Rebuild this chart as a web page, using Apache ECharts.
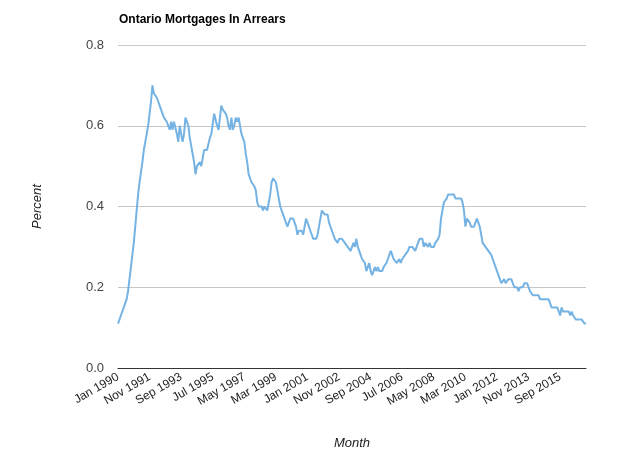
<!DOCTYPE html>
<html>
<head>
<meta charset="utf-8">
<script src="https://cdn.jsdelivr.net/npm/echarts@6/dist/echarts.min.js"></script>
<style>
  html, body { margin: 0; padding: 0; background: #fff; }
  #chart { width: 637px; height: 455px; }
</style>
</head>
<body>
<div id="chart"></div>
<script>
  // monthly arrears rate (%), Jan 1990 .. Mar 2017, one row per year
  const y1990 = [0.11, 0.12, 0.13, 0.14, 0.15, 0.16, 0.17, 0.19, 0.22, 0.25, 0.28, 0.31];
  const y1991 = [0.35, 0.39, 0.43, 0.46, 0.46, 0.51, 0.54, 0.56, 0.58, 0.60, 0.63, 0.66];
  const y1992 = [0.70, 0.68, 0.68, 0.67, 0.66, 0.65, 0.64, 0.63, 0.62, 0.62, 0.61, 0.61];
  const y1993 = [0.59, 0.61, 0.59, 0.61, 0.61, 0.58, 0.56, 0.60, 0.58, 0.56, 0.58, 0.62];
  const y1994 = [0.62, 0.60, 0.57, 0.55, 0.53, 0.51, 0.48, 0.50, 0.50, 0.51, 0.50, 0.52];
  const y1995 = [0.54, 0.54, 0.54, 0.54, 0.57, 0.58, 0.58, 0.63, 0.63, 0.60, 0.59, 0.62];
  const y1996 = [0.65, 0.64, 0.64, 0.63, 0.62, 0.60, 0.59, 0.62, 0.59, 0.60, 0.62, 0.61];
  const y1997 = [0.62, 0.60, 0.58, 0.57, 0.56, 0.53, 0.51, 0.48, 0.47, 0.46, 0.46, 0.45];
  const y1998 = [0.44, 0.41, 0.40, 0.40, 0.40, 0.39, 0.40, 0.40, 0.39, 0.41, 0.43, 0.46];
  const y1999 = [0.47, 0.47, 0.46, 0.44, 0.44, 0.40, 0.39, 0.38, 0.37, 0.36, 0.35, 0.36];
  const y2000 = [0.37, 0.37, 0.37, 0.37, 0.35, 0.33, 0.34, 0.34, 0.34, 0.33, 0.35, 0.37];
  const y2001 = [0.36, 0.35, 0.34, 0.33, 0.32, 0.32, 0.32, 0.33, 0.35, 0.37, 0.39, 0.39];
  const y2002 = [0.38, 0.38, 0.38, 0.36, 0.35, 0.34, 0.33, 0.32, 0.32, 0.31, 0.32, 0.32];
  const y2003 = [0.32, 0.32, 0.31, 0.31, 0.30, 0.30, 0.29, 0.30, 0.31, 0.30, 0.32, 0.30];
  const y2004 = [0.30, 0.28, 0.27, 0.27, 0.26, 0.24, 0.25, 0.26, 0.24, 0.23, 0.23, 0.25];
  const y2005 = [0.24, 0.25, 0.24, 0.24, 0.24, 0.25, 0.25, 0.26, 0.27, 0.28, 0.29, 0.28];
  const y2006 = [0.27, 0.27, 0.26, 0.26, 0.27, 0.26, 0.27, 0.27, 0.28, 0.28, 0.29, 0.30];
  const y2007 = [0.30, 0.30, 0.30, 0.29, 0.30, 0.30, 0.32, 0.32, 0.32, 0.30, 0.31, 0.31];
  const y2008 = [0.30, 0.31, 0.30, 0.30, 0.30, 0.31, 0.31, 0.32, 0.33, 0.37, 0.39, 0.41];
  const y2009 = [0.41, 0.42, 0.43, 0.43, 0.43, 0.43, 0.43, 0.42, 0.42, 0.42, 0.42, 0.42];
  const y2010 = [0.41, 0.39, 0.35, 0.37, 0.37, 0.36, 0.35, 0.35, 0.35, 0.36, 0.37, 0.36];
  const y2011 = [0.35, 0.33, 0.31, 0.31, 0.30, 0.30, 0.29, 0.29, 0.28, 0.27, 0.27, 0.25];
  const y2012 = [0.24, 0.23, 0.22, 0.21, 0.21, 0.22, 0.21, 0.21, 0.22, 0.22, 0.22, 0.21];
  const y2013 = [0.20, 0.20, 0.20, 0.19, 0.20, 0.20, 0.20, 0.21, 0.21, 0.21, 0.20, 0.19];
  const y2014 = [0.19, 0.18, 0.18, 0.18, 0.18, 0.18, 0.17, 0.17, 0.17, 0.17, 0.17, 0.17];
  const y2015 = [0.17, 0.16, 0.15, 0.15, 0.15, 0.15, 0.15, 0.15, 0.13, 0.15, 0.14, 0.14];
  const y2016 = [0.14, 0.14, 0.14, 0.13, 0.14, 0.13, 0.13, 0.12, 0.12, 0.12, 0.12, 0.12];
  const y2017 = [0.12, 0.11, 0.11];

  const monthNames = ['Jan', 'Feb', 'Mar', 'Apr', 'May', 'Jun', 'Jul', 'Aug', 'Sep', 'Oct', 'Nov', 'Dec'];
  const firstYear = 1990;

  let arrears = [].concat(y1990, y1991, y1992, y1993, y1994, y1995, y1996, y1997, y1998,
    y1999, y2000, y2001, y2002, y2003, y2004, y2005, y2006, y2007, y2008, y2009, y2010,
    y2011, y2012, y2013, y2014, y2015, y2016, y2017);

  let months = arrears.map((v, i) => monthNames[i % 12] + ' ' + (firstYear + Math.floor(i / 12)));

  let chart = echarts.init(document.getElementById('chart'));

  chart.setOption({
    animation: false,
    textStyle: { fontFamily: 'Liberation Sans, Arial, sans-serif' },
    title: {
      text: 'Ontario Mortgages In Arrears',
      left: 114,
      top: 9,
      textStyle: { fontSize: 12, fontWeight: 'bold', color: '#000' }
    },
    grid: {
      left: 118,
      right: 51,
      top: 45,
      bottom: 86
    },
    xAxis: {
      type: 'category',
      data: months,
      boundaryGap: false,
      name: 'Month',
      nameLocation: 'middle',
      nameGap: 69,
      nameTextStyle: { fontStyle: 'italic', fontSize: 13, color: '#222' },
      axisLine: { lineStyle: { color: '#333', width: 1 } },
      axisTick: { show: false },
      axisLabel: {
        interval: 21,
        rotate: 30,
        margin: 8,
        fontSize: 12,
        color: '#222'
      },
      splitLine: { show: false }
    },
    yAxis: {
      type: 'value',
      min: 0,
      max: 0.8,
      interval: 0.2,
      name: 'Percent',
      nameLocation: 'middle',
      nameGap: 74,
      nameTextStyle: { fontStyle: 'italic', fontSize: 13, color: '#222' },
      axisLine: { show: false },
      axisTick: { show: false },
      axisLabel: {
        margin: 14,
        fontSize: 13,
        color: '#444',
        formatter: (v) => v.toFixed(1)
      },
      splitLine: { lineStyle: { color: '#c8c8c8', width: 1 } }
    },
    series: [
      {
        type: 'line',
        name: 'Arrears',
        data: arrears,
        showSymbol: false,
        lineStyle: { color: '#74b3e3', width: 2 },
        itemStyle: { color: '#74b3e3' }
      }
    ]
  });
</script>
</body>
</html>
